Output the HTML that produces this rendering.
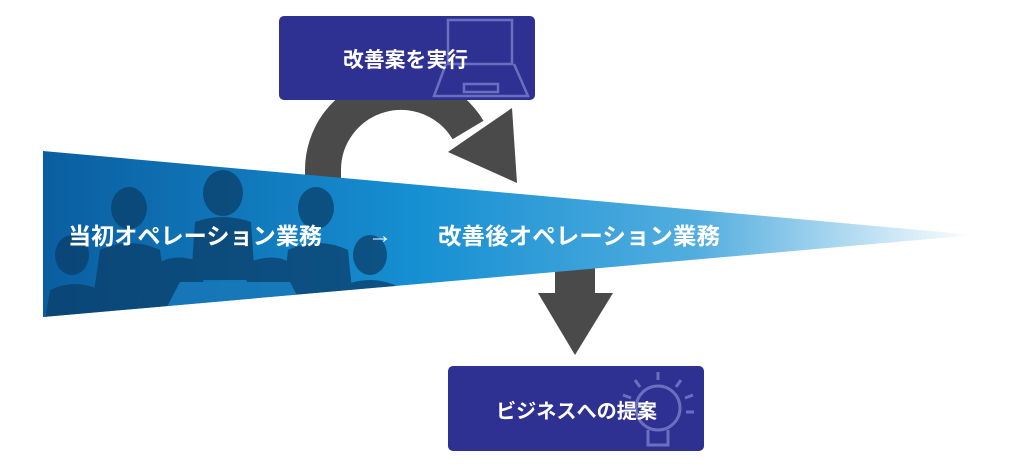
<!DOCTYPE html>
<html><head><meta charset="utf-8"><style>
html,body{margin:0;padding:0;background:#fff;width:1024px;height:468px;overflow:hidden}
text{font-family:"Liberation Sans","Noto Sans CJK JP",sans-serif;font-weight:bold;fill:#fff}
</style></head><body>
<svg width="1024" height="468" viewBox="0 0 1024 468" xmlns="http://www.w3.org/2000/svg">
<defs>
<linearGradient id="g" x1="43" y1="0" x2="975" y2="0" gradientUnits="userSpaceOnUse">
<stop offset="0" stop-color="#0a5ea0"/>
<stop offset="0.4" stop-color="#168fd2"/>
<stop offset="0.7" stop-color="#52addf"/>
<stop offset="1" stop-color="#ffffff"/>
</linearGradient>
<clipPath id="w"><polygon points="43,151 975,235 43,317"/></clipPath>
</defs>
<path d="M 323 200 L 323 170 A 78 78 0 0 1 468 130" fill="none" stroke="#4a4a4a" stroke-width="36"/>
<polygon points="448,152 517,183 512,108" fill="#4a4a4a"/>
<rect x="555" y="260" width="40" height="35" fill="#4a4a4a"/>
<polygon points="538,293 613,293 575,355" fill="#4a4a4a"/>
<polygon points="43,151 975,235 43,317" fill="url(#g)"/>
<g clip-path="url(#w)" fill="#0b3f6a" opacity="0.75">
<ellipse cx="223" cy="193" rx="20" ry="23"/>
<path d="M195 222 Q223 212 251 222 L255 280 L191 280 Z"/>
<ellipse cx="129" cy="208" rx="18" ry="21"/>
<path d="M100 250 Q130 236 160 250 L170 320 L90 320 Z"/>
<ellipse cx="316" cy="208" rx="18" ry="21"/>
<path d="M288 250 Q318 236 348 250 L355 320 L280 320 Z"/>
<ellipse cx="72" cy="255" rx="17" ry="20"/>
<path d="M50 290 Q75 278 100 290 L105 320 L45 320 Z"/>
<ellipse cx="370" cy="255" rx="17" ry="20"/>
<path d="M345 285 Q370 275 395 285 L400 320 L340 320 Z"/>
<path d="M150 270 Q170 250 200 262 L210 320 L140 320 Z"/>
<path d="M250 262 Q280 250 300 270 L310 320 L240 320 Z"/>
<path d="M180 282 L290 282 L310 320 L160 320 Z" fill="#1a78b8"/>
</g>
<text x="68" y="244" font-size="23" textLength="254" lengthAdjust="spacingAndGlyphs">当初オペレーション業務</text>
<text x="368" y="243" font-size="24" style="font-weight:normal" textLength="24" lengthAdjust="spacingAndGlyphs">→</text>
<text x="438" y="244" font-size="23" textLength="282" lengthAdjust="spacingAndGlyphs">改善後オペレーション業務</text>
<rect x="279" y="16" width="256" height="84" rx="5" fill="#2e3192"/>
<g fill="none" stroke="#6a6fc0" stroke-width="2.5">
<rect x="448" y="20" width="64" height="44"/>
<path d="M446 64 L434 96 L528 96 L514 64"/>
<rect x="464" y="84" width="34" height="8"/>
</g>
<text x="343" y="67" font-size="21" textLength="125" lengthAdjust="spacingAndGlyphs">改善案を実行</text>
<rect x="448" y="366" width="256" height="85" rx="5" fill="#2e3192"/>
<g fill="none" stroke="#6a6fc0" stroke-width="3">
<circle cx="658" cy="408" r="22"/>
<path d="M648 430 L648 445 L668 445 L668 430"/>
<path d="M658 372 L658 380 M635 380 L640 387 M681 380 L676 387 M623 395 L631 398 M693 395 L685 398 M622 412 L630 412 M694 412 L686 412"/>
</g>
<text x="496" y="418" font-size="20" textLength="161" lengthAdjust="spacingAndGlyphs">ビジネスへの提案</text>
</svg>
</body></html>
